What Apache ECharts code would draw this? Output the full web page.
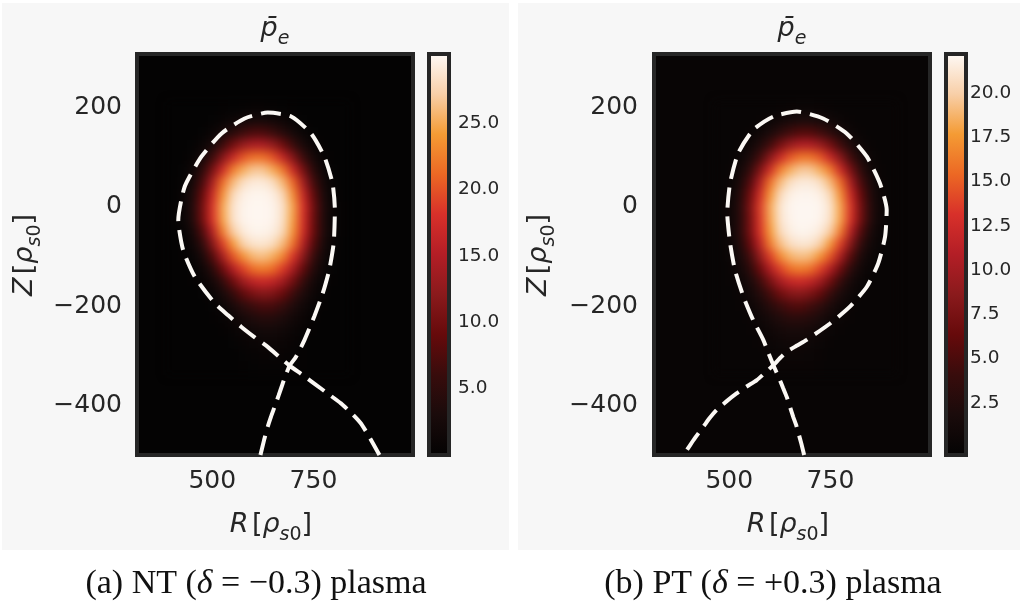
<!DOCTYPE html>
<html>
<head>
<meta charset="utf-8">
<script src="https://cdn.jsdelivr.net/npm/echarts@6/dist/echarts.min.js"></script>
<style>
  html, body { margin: 0; padding: 0; background: #ffffff; }
  #wrap { position: relative; width: 1020px; height: 608px; overflow: hidden; background: #ffffff; }
  .panel { position: absolute; top: 3px; height: 547px; background: #f7f7f7; }
  .heat { position: absolute; top: 54px; width: 276px; height: 401px; overflow: hidden; background: #040303; }
  .heat > div { width: 276px; height: 401px; filter: blur(5px); }
  #main { position: absolute; left: 0; top: 0; width: 1020px; height: 608px; }
</style>
</head>
<body>
<div id="wrap">
  <div class="panel" style="left:2px;width:507px"></div>
  <div class="panel" style="left:518px;width:502px"></div>
  <div class="heat" id="boxNT" style="left:137px"><div id="heatNT"></div></div>
  <div class="heat" id="boxPT" style="left:654px"><div id="heatPT"></div></div>
  <div id="main"></div>
</div>
<script>
// ---- axis extents (R, Z in rho_s0) ----
const R_MIN = 314, R_MAX = 996;
const Z_MIN = -500, Z_MAX = 308;
const CELL = 25;

const rTicks = [500, 750];
const zTicks = [-400, -200, 0, 200];

// ---- electron pressure p_e, NT case (rows: Z, columns: R) ----
const ntR = [400, 425, 450, 475, 500, 525, 550, 575, 600, 625, 650, 675, 700, 725, 750, 775, 800, 825];
const ntZ = [200, 175, 150, 125, 100, 75, 50, 25, 0, -25, -50, -75, -100, -125, -150, -175, -200, -225, -250, -275, -300, -325];
const ntPe = [
  [0,0,0,0,0,0.1,0.2,0.3,0.5,0.5,0.3,0.2,0.1,0,0,0,0,0],
  [0,0,0,0,0.2,0.5,1.2,1.9,2.4,2.4,1.9,1.2,0.5,0.2,0,0,0,0],
  [0,0,0,0.2,0.9,2.3,4.2,6.1,7.2,7.2,6.0,4.1,2.2,0.8,0.2,0,0,0],
  [0,0,0.2,0.9,2.8,6.0,9.8,12.8,14.5,14.5,12.7,9.6,5.9,2.7,0.8,0.1,0,0],
  [0,0,0.5,2.3,6.1,11.4,16.4,20.0,21.7,21.7,19.9,16.2,11.2,6.0,2.2,0.5,0,0],
  [0,0.2,1.2,4.5,10.3,17.0,22.2,25.1,26.6,26.6,25.0,22.0,16.7,10.1,4.3,1.1,0.2,0],
  [0,0.3,2.1,6.9,14.2,21.3,25.8,28.2,29.1,29.1,28.2,25.7,21.0,13.9,6.6,2.0,0.3,0],
  [0,0.5,3.0,8.9,17.0,23.5,27.8,29.5,29.9,29.9,29.5,27.7,23.3,16.6,8.6,2.9,0.5,0],
  [0.1,0.7,3.5,10.0,18.3,24.8,28.6,29.8,30.0,30.0,29.8,28.5,24.6,18.0,9.7,3.4,0.6,0.1],
  [0.1,0.7,3.4,9.8,18.1,24.6,28.5,29.8,30.0,30.0,29.8,28.4,24.4,17.8,9.5,3.3,0.6,0.1],
  [0,0.3,2.2,7.4,15.1,22.3,27.0,29.1,29.8,29.8,29.4,27.8,23.6,17.3,9.3,3.3,0.7,0.1],
  [0,0.2,1.3,4.9,11.4,18.7,24.0,27.3,28.6,28.8,28.1,25.9,21.7,15.1,7.8,2.6,0.5,0],
  [0,0.1,0.6,2.8,7.6,14.0,19.9,23.5,25.8,26.3,25.2,22.8,18.2,11.9,5.8,1.8,0.3,0],
  [0,0,0.2,1.3,4.2,9.2,14.7,18.9,21.5,22.3,21.3,18.5,14.0,8.6,3.8,1.1,0.2,0],
  [0,0,0.1,0.5,2.0,5.2,9.4,13.3,16.0,17.0,16.1,13.6,9.8,5.5,2.2,0.6,0.1,0],
  [0,0,0,0.2,0.8,2.6,5.3,8.4,10.6,11.6,11.0,9.1,6.1,3.3,1.2,0.3,0,0],
  [0,0,0,0,0.3,1.1,2.6,4.6,6.2,7.1,6.8,5.5,3.5,1.7,0.6,0.1,0,0],
  [0,0,0,0,0.1,0.4,1.2,2.3,3.4,4.0,3.9,3.1,1.9,0.9,0.3,0,0,0],
  [0,0,0,0,0,0.1,0.5,1.1,1.7,2.1,2.1,1.7,1.0,0.4,0.1,0,0,0],
  [0,0,0,0,0,0,0.2,0.5,0.8,1.1,1.1,0.9,0.5,0.2,0,0,0,0],
  [0,0,0,0,0,0,0,0.2,0.4,0.5,0.6,0.5,0.3,0.1,0,0,0,0],
  [0,0,0,0,0,0,0,0.1,0.2,0.3,0.3,0.3,0.2,0.1,0,0,0,0]
];

// ---- electron pressure p_e, PT case ----
const ptR = [475, 500, 525, 550, 575, 600, 625, 650, 675, 700, 725, 750, 775, 800, 825, 850, 875, 900];
const ptZ = ntZ;
const ptPe = [
  [0,0,0,0,0,0,0.1,0.2,0.3,0.3,0.2,0.1,0,0,0,0,0,0],
  [0,0,0,0,0.1,0.4,0.9,1.4,1.8,1.8,1.4,0.9,0.4,0.1,0,0,0,0],
  [0,0,0,0.1,0.7,1.7,3.1,4.5,5.3,5.3,4.4,3.0,1.6,0.6,0.1,0,0,0],
  [0,0,0.1,0.7,2.1,4.4,7.2,9.4,10.7,10.7,9.4,7.1,4.3,2.0,0.6,0.1,0,0],
  [0,0,0.4,1.7,4.5,8.4,12.1,14.7,16.0,16.0,14.7,11.9,8.3,4.4,1.6,0.4,0,0],
  [0,0.1,0.9,3.3,7.6,12.5,16.4,18.5,19.6,19.6,18.4,16.2,12.3,7.4,3.2,0.8,0.1,0],
  [0,0.2,1.5,5.1,10.5,15.7,19.0,20.8,21.4,21.4,20.8,18.9,15.5,10.2,4.9,1.5,0.2,0],
  [0,0.4,2.2,6.6,12.5,17.3,20.5,21.7,22.0,22.0,21.7,20.4,17.2,12.2,6.3,2.1,0.4,0],
  [0,0.5,2.6,7.4,13.5,18.3,21.1,22.0,22.1,22.1,22.0,21.0,18.1,13.3,7.1,2.5,0.4,0],
  [0,0.5,2.5,7.2,13.3,18.1,21.0,21.9,22.1,22.1,21.9,20.9,18.0,13.1,7.0,2.4,0.4,0],
  [0,0.5,2.6,7.1,13.0,17.6,20.5,21.6,22.0,21.9,21.4,19.8,16.3,10.9,5.2,1.5,0.2,0],
  [0,0.4,2.0,6.0,11.3,16.2,19.2,20.7,21.2,21.1,20.0,17.5,13.6,8.2,3.5,0.9,0.1,0],
  [0,0.3,1.4,4.4,8.9,13.6,16.9,18.7,19.3,19.0,17.3,14.5,10.2,5.4,1.9,0.4,0,0],
  [0,0.1,0.9,2.9,6.5,10.5,13.7,15.7,16.4,15.8,13.8,10.6,6.6,3.0,0.9,0.1,0,0],
  [0,0.1,0.5,1.7,4.2,7.3,10.1,11.9,12.5,11.7,9.7,6.8,3.7,1.4,0.3,0,0,0],
  [0,0,0.2,0.9,2.5,4.6,6.8,8.1,8.5,7.7,6.1,3.8,1.8,0.6,0.1,0,0,0],
  [0,0,0.1,0.5,1.3,2.7,4.1,5.0,5.3,4.5,3.3,1.9,0.8,0.2,0,0,0,0],
  [0,0,0,0.2,0.7,1.4,2.3,2.9,2.9,2.5,1.7,0.8,0.3,0.1,0,0,0,0],
  [0,0,0,0.1,0.3,0.7,1.2,1.5,1.5,1.2,0.8,0.3,0.1,0,0,0,0,0],
  [0,0,0,0,0.2,0.4,0.6,0.8,0.8,0.6,0.3,0.1,0,0,0,0,0,0],
  [0,0,0,0,0,0.2,0.3,0.4,0.4,0.3,0.2,0,0,0,0,0,0,0],
  [0,0,0,0,0,0.1,0.2,0.2,0.2,0.2,0.1,0,0,0,0,0,0,0]
];

// ---- colour scale ranges and colourbar ticks ----
const ntRange = [0, 30.2];
const ptRange = [-0.44, 22.2];
const ntBarTicks = [5, 10, 15, 20, 25];
const ptBarTicks = [2.5, 5, 7.5, 10, 12.5, 15, 17.5, 20];

// ---- separatrix traces [R, Z] ----
const ntSeparatrix = [[619,-500],[628,-470],[637,-443],[645,-423],[654,-403],[664,-380],[674,-356],[682,-338],[691,-320],[707,-302],[728,-268],[752,-221],[773,-174],[789,-127],[800,-73],[803,-6],[797,48],[777,101],[744,148],[695,182],[637,190],[580,178],[523,148],[473,101],[432,41],[416,-27],[428,-87],[457,-141],[506,-194],[540,-219],[572,-242],[605,-263],[637,-282],[664,-301],[691,-320],[722,-338],[752,-356],[785,-376],[818,-396],[843,-415],[867,-436],[889,-465],[913,-500]];
const ptSeparatrix = [[685,-500],[678,-477],[671,-456],[665,-439],[658,-423],[650,-403],[642,-383],[633,-365],[625,-349],[617,-334],[609,-319],[596,-293],[584,-268],[559,-228],[535,-181],[514,-127],[502,-73],[495,-13],[502,48],[522,108],[559,155],[609,182],[667,192],[732,178],[790,148],[840,101],[872,48],[889,-6],[885,-60],[868,-114],[840,-161],[798,-201],[749,-235],[691,-268],[666,-280],[642,-292],[625,-305],[609,-319],[589,-334],[568,-349],[543,-362],[518,-376],[493,-392],[469,-409],[452,-425],[436,-443],[415,-466],[395,-490],[386,-500]];

// ---- text ----
const captions = ['(a) NT ({d|δ} = −0.3) plasma', '(b) PT ({d|δ} = +0.3) plasma'];

// heat colour map: black -> dark red -> red -> orange -> cream white
const CMAP = ['#040303','#1a0b0b','#380c0c','#660a0b','#8a1a1c','#b31e26','#d8302a','#ec6824','#f49b34','#f8cfa8','#fef9f5'];

const INK = '#262626';
const SANS = 'DejaVu Sans';

function heatOption(R, Z, P, range) {
  const data = [];
  Z.forEach((z, i) => R.forEach((r, j) => data.push([r, z, P[i][j]])));
  return {
    animation: false,
    backgroundColor: 'transparent',
    grid: { left: 0, top: 0, right: 0, bottom: 0, outerBoundsMode: 'none' },
    xAxis: { type: 'value', min: R_MIN, max: R_MAX, show: false },
    yAxis: { type: 'value', min: Z_MIN, max: Z_MAX, show: false },
    visualMap: { show: false, type: 'continuous', min: range[0], max: range[1], dimension: 2, seriesIndex: 0, inRange: { color: CMAP } },
    series: [{
      type: 'custom',
      data: data,
      renderItem: function (params, api) {
        const p = api.coord([api.value(0) - CELL / 2, api.value(1) + CELL / 2]);
        const s = api.size([CELL, CELL]);
        return { type: 'rect', shape: { x: p[0], y: p[1], width: s[0] + 0.7, height: s[1] + 0.7 }, style: { fill: api.visual('color') } };
      }
    }]
  };
}

// the area outside the sampled window takes the colour of p_e = 0
function zeroColour(range) {
  const t = (0 - range[0]) / (range[1] - range[0]) * (CMAP.length - 1);
  const i = Math.floor(t), f = t - i;
  const a = echarts.color.parse(CMAP[i]), b = echarts.color.parse(CMAP[i + 1]);
  const mix = a.slice(0, 3).map((v, k) => Math.round(v + (b[k] - v) * f));
  return 'rgb(' + mix.join(',') + ')';
}
document.getElementById('boxNT').style.background = zeroColour(ntRange);
document.getElementById('boxPT').style.background = zeroColour(ptRange);

echarts.init(document.getElementById('heatNT')).setOption(heatOption(ntR, ntZ, ntPe, ntRange));
echarts.init(document.getElementById('heatPT')).setOption(heatOption(ptR, ptZ, ptPe, ptRange));

// ---- frames, axes, separatrix, colourbars ----
const plotGrids = [
  { left: 137, top: 54, width: 276, height: 401 },
  { left: 654, top: 54, width: 276, height: 401 }
];
const barGrids = [
  { left: 429, top: 54, width: 20, height: 401 },
  { left: 946, top: 54, width: 20, height: 401 }
];
const frame = { show: true, borderColor: INK, borderWidth: 4, backgroundColor: 'transparent', outerBoundsMode: 'none' };

const minus = v => (v < 0 ? '\u2212' + Math.abs(v) : String(v));
const tickLabel = { fontFamily: SANS, fontSize: 25, color: INK };

function plotX(i) {
  return { gridIndex: i, type: 'value', min: R_MIN, max: R_MAX,
    axisLine: { show: false }, axisTick: { show: false }, splitLine: { show: false },
    axisLabel: Object.assign({ customValues: rTicks, margin: 14, formatter: minus }, tickLabel) };
}
function plotY(i, margin) {
  return { gridIndex: i, type: 'value', min: Z_MIN, max: Z_MAX,
    axisLine: { show: false }, axisTick: { show: false }, splitLine: { show: false },
    axisLabel: Object.assign({ customValues: zTicks, margin: margin, formatter: minus }, tickLabel) };
}
function barX(i) {
  return { gridIndex: i, type: 'value', min: 0, max: 1, show: false };
}
function barY(i, range, ticks, margin) {
  return { gridIndex: i, type: 'value', position: 'right', min: range[0], max: range[1],
    axisLine: { show: false }, axisTick: { show: false }, splitLine: { show: false },
    axisLabel: { customValues: ticks, margin: margin, fontFamily: SANS, fontSize: 18.5, color: INK,
      formatter: v => v.toFixed(1) } };
}

const gradStops = CMAP.map((c, i) => ({ offset: i / (CMAP.length - 1), color: c }));
function colourbar(axisIdx, range) {
  return {
    type: 'custom', xAxisIndex: axisIdx, yAxisIndex: axisIdx, z: -1,
    data: [[0, range[0], range[1]]],
    renderItem: function (params, api) {
      const a = api.coord([0, api.value(2)]);
      const b = api.coord([1, api.value(1)]);
      return { type: 'rect', shape: { x: a[0], y: a[1], width: b[0] - a[0], height: b[1] - a[1] },
        style: { fill: new echarts.graphic.LinearGradient(0, 1, 0, 0, gradStops) } };
    }
  };
}
function separatrix(axisIdx, pts) {
  return {
    type: 'line', xAxisIndex: axisIdx, yAxisIndex: axisIdx, data: pts,
    smooth: 0.2, symbol: 'none', clip: true,
    lineStyle: { color: '#fbf8f4', width: 4, type: [20, 9], cap: 'butt' }
  };
}

const mathRich = {
  it: { fontFamily: SANS, fontStyle: 'italic', fontSize: 27, color: INK, lineHeight: 32, verticalAlign: 'top' },
  up: { fontFamily: SANS, fontSize: 27, color: INK, lineHeight: 32, verticalAlign: 'top' },
  si: { fontFamily: SANS, fontStyle: 'italic', fontSize: 19, color: INK, lineHeight: 20, verticalAlign: 'top', padding: [15, 0, 0, 0] },
  su: { fontFamily: SANS, fontSize: 19, color: INK, lineHeight: 20, verticalAlign: 'top', padding: [15, 0, 0, 0] }
};
const unitText = '{it|ρ}{si|s}{su|0}';

function mathText(x, y, text, rot) {
  return { type: 'text', x: x, y: y, rotation: rot || 0,
    style: { text: text, rich: mathRich, align: 'center', verticalAlign: 'middle', fill: INK } };
}
function caption(x, y, text) {
  return { type: 'text', x: x, y: y,
    style: { text: text, align: 'center', verticalAlign: 'middle', fill: '#111',
      font: '34px "Liberation Serif"',
      rich: { d: { fontFamily: 'Liberation Serif', fontStyle: 'italic', fontSize: 34, fill: '#111' } } } };
}

const main = echarts.init(document.getElementById('main'));
main.setOption({
  animation: false,
  backgroundColor: 'transparent',
  grid: [
    Object.assign({}, plotGrids[0], frame),
    Object.assign({}, plotGrids[1], frame),
    Object.assign({}, barGrids[0], frame),
    Object.assign({}, barGrids[1], frame)
  ],
  xAxis: [plotX(0), plotX(1), barX(2), barX(3)],
  yAxis: [plotY(0, 15), plotY(1, 16), barY(2, ntRange, ntBarTicks, 9), barY(3, ptRange, ptBarTicks, 4)],
  series: [
    separatrix(0, ntSeparatrix),
    separatrix(1, ptSeparatrix),
    colourbar(2, ntRange),
    colourbar(3, ptRange)
  ],
  graphic: [
    mathText(275, 31, '{it|p\u0304}{si|e}'),
    mathText(792, 31, '{it|p\u0304}{si|e}'),
    mathText(271, 527, '{it|R} {up|[}' + unitText + '{up|]}'),
    mathText(788, 527, '{it|R} {up|[}' + unitText + '{up|]}'),
    mathText(27, 255, '{it|Z} {up|[}' + unitText + '{up|]}', Math.PI / 2),
    mathText(541, 255, '{it|Z} {up|[}' + unitText + '{up|]}', Math.PI / 2),
    caption(256, 584, captions[0]),
    caption(773, 584, captions[1])
  ]
});
</script>
</body>
</html>
